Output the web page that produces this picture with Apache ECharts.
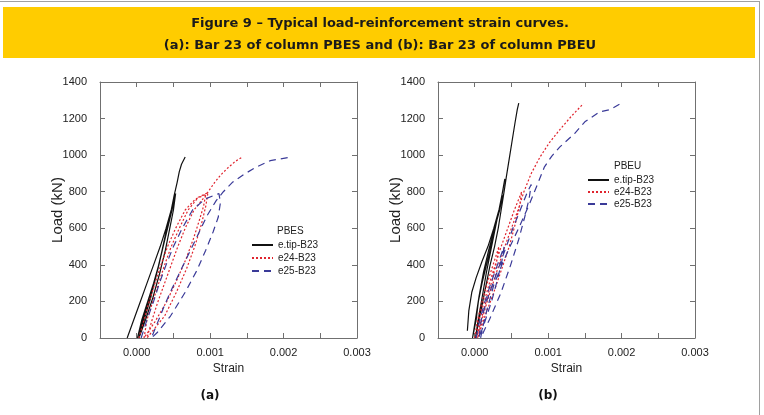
<!DOCTYPE html>
<html>
<head>
<meta charset="utf-8">
<script src="https://cdn.jsdelivr.net/npm/echarts@6/dist/echarts.min.js"></script>
<style>
html,body{margin:0;padding:0;background:#fff;}
#main{width:764px;height:415px;}
</style>
</head>
<body>
<div id="main"></div>
<script>
// strain (-) vs load (kN), cyclic loops
const pbesTip = [
  [-0.00013,0],[-0.00004,100],[0.00005,200],[0.00014,300],[0.00023,400],[0.00032,500],[0.0004,600],[0.00047,700],[0.00051,770],
  [0.00049,720],[0.00043,620],[0.00036,500],[0.00029,380],[0.0002,250],[0.0001,120],[0.00001,0],
  [0.00007,100],[0.00015,200],[0.00023,300],[0.0003,400],[0.00036,500],[0.00042,600],[0.00048,700],[0.00053,790],
  [0.0005,700],[0.00045,600],[0.00039,480],[0.00031,350],[0.00022,220],[0.00012,100],[0.00003,0],
  [0.0001,100],[0.00019,220],[0.00027,350],[0.00034,470],[0.0004,580],[0.00046,680],[0.00051,780],[0.00055,850],[0.00058,910],[0.00061,950],[0.00066,990]
];
const pbesE24 = [
  [0.00003,0],[0.0001,100],[0.00017,200],[0.00025,300],[0.00033,400],[0.00042,500],[0.00053,600],[0.00066,700],[0.0008,760],[0.00094,785],
  [0.00091,720],[0.00085,640],[0.00077,540],[0.00067,430],[0.00055,320],[0.00041,200],[0.00025,90],[0.0001,0],
  [0.00014,100],[0.00022,200],[0.0003,300],[0.00038,400],[0.00047,500],[0.00058,600],[0.0007,700],[0.00084,770],[0.00097,795],
  [0.00094,720],[0.00088,620],[0.00079,500],[0.00068,380],[0.00054,250],[0.00038,120],[0.00014,0],
  [0.00021,100],[0.00029,200],[0.00038,300],[0.00047,400],[0.00056,500],[0.00066,600],[0.00078,700],[0.00093,775],[0.00106,850],[0.00114,890],[0.00124,930],[0.00134,965],[0.00143,988]
];
const pbesE25 = [
  [0.00006,0],[0.00014,100],[0.00023,200],[0.00031,300],[0.0004,400],[0.0005,500],[0.00062,600],[0.00076,700],[0.00093,760],[0.00112,790],
  [0.00114,740],[0.00111,660],[0.00104,580],[0.00094,480],[0.00082,370],[0.00066,250],[0.00046,120],[0.00028,30],[0.0002,0],
  [0.00028,80],[0.00038,180],[0.00048,270],[0.0006,370],[0.00072,470],[0.00084,570],[0.00096,670],[0.00108,750],[0.00118,800],
  [0.0013,850],[0.00146,895],[0.00163,935],[0.00182,970],[0.00208,988]
];
const pbeuTip = [
  [-0.0001,40],[-0.00008,150],[-0.00004,250],[0.00002,330],[0.0001,420],[0.00018,500],[0.00026,600],[0.00033,700],[0.00038,780],
  [0.00034,700],[0.00027,600],[0.00019,480],[0.00012,360],[0.00006,230],[0.00001,100],[-0.00003,0],
  [0.00002,100],[0.00005,200],[0.0001,300],[0.00016,400],[0.00022,500],[0.00028,600],[0.00033,700],[0.00038,800],[0.00041,870],
  [0.00037,780],[0.00031,660],[0.00024,520],[0.00016,360],[0.0001,220],[0.00004,80],[0.00001,0],
  [0.00006,100],[0.00011,200],[0.00016,300],[0.00021,400],[0.00027,500],[0.00032,600],[0.00036,700],[0.0004,800],[0.00043,880],
  [0.00047,980],[0.00051,1080],[0.00055,1180],[0.00058,1250],[0.0006,1285]
];
const pbeuE24 = [
  [0.0,0],[0.00004,100],[0.0001,200],[0.00017,300],[0.00025,400],[0.00033,500],
  [0.0003,420],[0.00024,320],[0.00017,220],[0.0001,120],[0.00003,0],
  [0.00006,100],[0.00013,200],[0.0002,300],[0.00028,400],[0.00036,500],[0.00045,600],[0.00054,700],[0.00064,800],
  [0.00061,720],[0.00055,620],[0.00047,500],[0.00037,380],[0.00026,250],[0.00014,120],[0.00004,0],
  [0.0001,100],[0.00017,200],[0.00025,300],[0.00033,400],[0.00041,500],[0.0005,600],[0.00059,700],[0.00067,800],[0.00077,900],
  [0.00089,990],[0.00102,1070],[0.00116,1140],[0.00131,1210],[0.00148,1282]
];
const pbeuE25 = [
  [0.00002,0],[0.00007,100],[0.00014,200],[0.00022,300],[0.00031,400],[0.0004,500],
  [0.00037,420],[0.00031,320],[0.00023,200],[0.00013,80],[0.00006,0],
  [0.00009,100],[0.00016,200],[0.00025,300],[0.00034,400],[0.00043,500],[0.00052,600],[0.00062,700],[0.00072,800],[0.00077,840],
  [0.00074,760],[0.00068,660],[0.0006,540],[0.00049,400],[0.00036,250],[0.0002,100],[0.00008,0],
  [0.00011,60],[0.00017,160],[0.00026,290],[0.00037,400],[0.00048,500],[0.00061,610],[0.00075,737],[0.00086,846],[0.00095,936],
  [0.00105,995],[0.00116,1045],[0.00136,1118],[0.0015,1182],[0.0017,1236],[0.00185,1250],[0.002,1285]
];
const seriesNames = ['e.tip-B23', 'e24-B23', 'e25-B23'];

const axisColor = '#707070';
const textColor = '#222';
const font = 'Liberation Sans, Arial, sans-serif';

function strainLabel(v) {
  const k = v * 1000;
  if (v < -1e-9) return '';
  if (Math.abs(k - Math.round(k)) < 1e-6) return (Math.round(k) / 1000).toFixed(3);
  return '';
}

function makeX(gridIndex) {
  const common = {
    gridIndex, type: 'value', min: -0.0005, max: 0.003, interval: 0.0005,
    axisLine: { onZero: false, lineStyle: { color: axisColor, width: 1 } },
    axisTick: { inside: true, length: 5, lineStyle: { color: axisColor } },
    splitLine: { show: false }
  };
  return [
    Object.assign({}, common, {
      position: 'bottom',
      name: 'Strain', nameLocation: 'middle', nameGap: 23,
      nameTextStyle: { fontSize: 12, color: textColor, fontFamily: font },
      axisLabel: { formatter: strainLabel, fontSize: 11, color: textColor, fontFamily: font, margin: 9 }
    }),
    Object.assign({}, common, { position: 'top', axisLabel: { show: false } })
  ];
}

function makeY(gridIndex) {
  const common = {
    gridIndex, type: 'value', min: 0, max: 1400, interval: 200,
    axisLine: { show: true, onZero: false, lineStyle: { color: axisColor, width: 1 } },
    axisTick: { show: true, inside: true, length: 5, lineStyle: { color: axisColor } },
    splitLine: { show: false }
  };
  return [
    Object.assign({}, common, {
      position: 'left',
      name: 'Load (kN)', nameLocation: 'middle', nameGap: 35, nameMoveOverlap: false,
      nameTextStyle: { fontSize: 15, color: textColor, fontFamily: font },
      axisLabel: { formatter: v => String(v), fontSize: 11, color: textColor, fontFamily: font, margin: 13 }
    }),
    Object.assign({}, common, { position: 'right', axisLabel: { show: false } })
  ];
}

const styles = [
  { color: '#111111', width: 1.2, type: 'solid' },
  { color: '#e0242e', width: 1.2, type: [2, 2] },
  { color: '#3a3a98', width: 1.2, type: [7, 5] }
];

function makeSeries(datas, axisIndex) {
  return datas.map((d, i) => ({
    name: seriesNames[i],
    type: 'line',
    xAxisIndex: axisIndex,
    yAxisIndex: axisIndex,
    data: d,
    symbol: 'none',
    showSymbol: false,
    animation: false,
    lineStyle: styles[i],
    itemStyle: { color: styles[i].color }
  }));
}

function makeLegend(left, top, gap) {
  return {
    orient: 'vertical', left, top, padding: 0,
    itemWidth: 21, itemHeight: 10, itemGap: gap,
    selectedMode: false,
    data: seriesNames,
    itemStyle: { opacity: 0 },
    textStyle: { fontSize: 10, color: textColor, fontFamily: font }
  };
}

const chart = echarts.init(document.getElementById('main'));
chart.setOption({
  animation: false,
  backgroundColor: '#fff',
  grid: [
    { left: 100, top: 82, width: 257, height: 256 },
    { left: 438, top: 82, width: 257, height: 256 }
  ],
  xAxis: makeX(0).concat(makeX(1)),
  yAxis: makeY(0).concat(makeY(1)),
  legend: [makeLegend(251, 240, 3), makeLegend(587, 175, 2)],
  series: makeSeries([pbesTip, pbesE24, pbesE25], 0).concat(makeSeries([pbeuTip, pbeuE24, pbeuE25], 2)),
  graphic: [
    { type: 'line', shape: { x1: 0, y1: 1.5, x2: 760, y2: 1.5 }, style: { stroke: '#a0a0a0', lineWidth: 1 } },
    { type: 'line', shape: { x1: 759.5, y1: 1, x2: 759.5, y2: 415 }, style: { stroke: '#a0a0a0', lineWidth: 1 } },
    { type: 'rect', shape: { x: 3, y: 7, width: 752, height: 51 }, style: { fill: '#ffcc00' } },
    { type: 'text', x: 380, y: 24, style: { text: 'Figure 9 – Typical load-reinforcement strain curves.', fill: '#1a1a1a', font: 'bold 13px "DejaVu Sans", sans-serif', textAlign: 'center', textVerticalAlign: 'middle' } },
    { type: 'text', x: 380, y: 46, style: { text: '(a): Bar 23 of column PBES and (b): Bar 23 of column PBEU', fill: '#1a1a1a', font: 'bold 13px "DejaVu Sans", sans-serif', textAlign: 'center', textVerticalAlign: 'middle' } },
    { type: 'text', x: 277, y: 231, style: { text: 'PBES', fill: textColor, font: '10px "Liberation Sans", Arial, sans-serif', textVerticalAlign: 'middle' } },
    { type: 'text', x: 614, y: 166, style: { text: 'PBEU', fill: textColor, font: '10px "Liberation Sans", Arial, sans-serif', textVerticalAlign: 'middle' } },
    { type: 'text', x: 210, y: 396, style: { text: '(a)', fill: '#111', font: 'bold 12px "DejaVu Sans", sans-serif', textAlign: 'center', textVerticalAlign: 'middle' } },
    { type: 'text', x: 548, y: 396, style: { text: '(b)', fill: '#111', font: 'bold 12px "DejaVu Sans", sans-serif', textAlign: 'center', textVerticalAlign: 'middle' } }
  ]
});
</script>
</body>
</html>
